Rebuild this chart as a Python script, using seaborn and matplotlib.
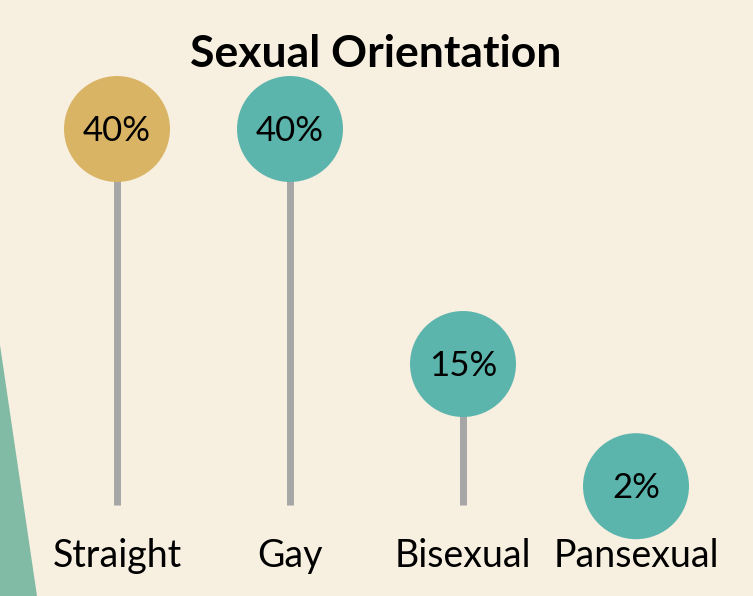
import matplotlib
matplotlib.use("Agg")
import matplotlib.pyplot as plt
from matplotlib.patches import Polygon
import seaborn as sns
import pandas as pd

categories = ["Straight", "Gay", "Bisexual", "Pansexual"]
values = [40, 40, 15, 2]
value_labels = ["40%", "40%", "15%", "2%"]
groups = ["highlight", "other", "other", "other"]

BG = "#F7EFE0"
GOLD = "#D9B465"
TEAL = "#5BB5AD"
STEM = "#A6A6A6"
DECOR = "#82BBA5"

sns.set_theme(style="white")
plt.rcParams["font.family"] = ["Lato", "DejaVu Sans"]

df = pd.DataFrame({"cat": categories, "x": range(len(categories)),
                   "val": values, "lab": value_labels, "grp": groups})

fig = plt.figure(figsize=(7.53, 5.96), dpi=100, facecolor=BG)
fig.add_artist(Polygon([(0, 1 - 345 / 596), (37 / 753, 0), (0, 0)],
                       closed=True, transform=fig.transFigure,
                       facecolor=DECOR, edgecolor="none", zorder=0))

ax = fig.add_axes([30.5 / 753, 91 / 596, 692 / 753, 423 / 596])
ax.set_facecolor("none")

ax.vlines(df["x"], 0, df["val"], color=STEM, linewidth=5, zorder=1)
sns.scatterplot(data=df, x="x", y="val", hue="grp",
                palette={"highlight": GOLD, "other": TEAL},
                s=5822, linewidth=0, legend=False, ax=ax, zorder=2)
for coll in ax.collections:
    coll.set_clip_on(False)

for i, row in df.iterrows():
    ax.text(row["x"], row["val"] - 0.2, row["lab"], ha="center", va="center",
            fontsize=25, color="black", zorder=3)
    ax.text(row["x"], -6.6, row["cat"], ha="center", va="baseline",
            fontsize=27, color="black", clip_on=False)

ax.set_xlim(-0.5, 3.5)
ax.set_ylim(0, 45)
ax.axis("off")

fig.text(376 / 753, 1 - 67 / 596, "Sexual Orientation", ha="center",
         va="baseline", fontsize=32, fontweight="bold", color="black")

fig.savefig("out.png", dpi=100, facecolor=BG)
